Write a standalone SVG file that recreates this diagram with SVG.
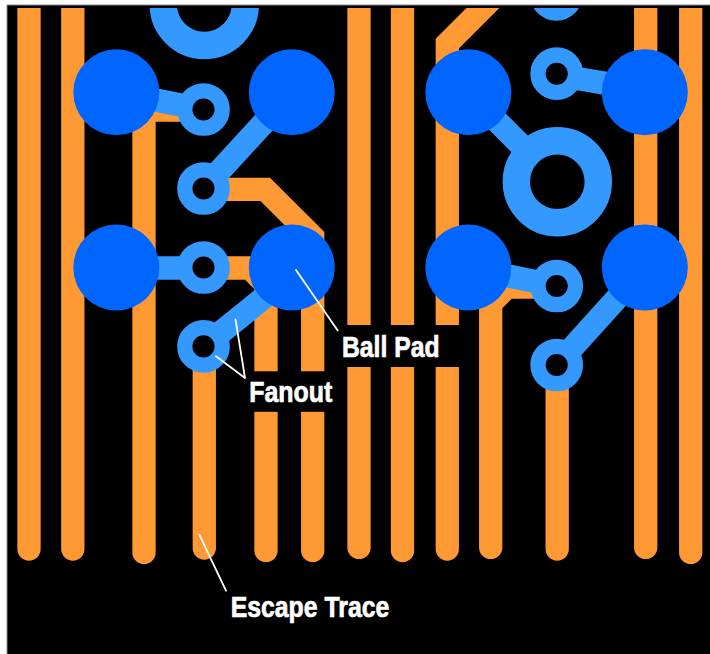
<svg xmlns="http://www.w3.org/2000/svg" width="710" height="654" viewBox="0 0 710 654">
<style>
.trace{fill:none;stroke:#ff9933;stroke-width:23.3;stroke-linecap:round;stroke-linejoin:miter}
.fan{fill:none;stroke:#3399ff;stroke-width:23.3}
.pad{fill:#0066ff}
.via{fill:#000000;stroke:#3399ff;stroke-width:15.3}
.bigvia{fill:#000000;stroke:#3399ff;stroke-width:27.4}
.lead{fill:none;stroke:#ffffff;stroke-width:1.8;stroke-linecap:round;stroke-linejoin:round}
.lbl{font-family:"Liberation Sans",Arial,sans-serif;font-weight:700;font-size:29.5px;fill:#ffffff;stroke:#ffffff;stroke-width:0.7}
</style>
<defs>
<clipPath id="board"><rect x="7.5" y="8" width="702.5" height="646"/></clipPath>
</defs>
<rect width="710" height="654" fill="#ffffff"/>
<rect x="6.5" y="4.5" width="703.5" height="650" fill="#8a8a8a"/>
<rect x="7.5" y="5.5" width="702.5" height="648.5" fill="#000000"/>
<g clip-path="url(#board)">
<g id="connectors">
<g id="escape-traces">
<path class="trace" d="M29 -20V549"/>
<path class="trace" d="M72.8 -20V549"/>
<path class="trace" d="M203.5 110H144V552.4"/>
<path class="trace" d="M204.3 346V548"/>
<path class="trace" d="M203.5 268H249.8L266 284.2V550.4"/>
<path class="trace" d="M203.5 189.3H265.2L312.7 236.8V550.4"/>
<path class="trace" d="M359 -20V547.4"/>
<path class="trace" d="M402.5 -20V550.6"/>
<path class="trace" d="M492.9 -2L447.3 43.6V549"/>
<path class="trace" d="M556.7 287H506.9L490.7 303.2V547.4"/>
<path class="trace" d="M557.2 365V549"/>
<path class="trace" d="M645.7 -20V547.4"/>
<path class="trace" d="M690.7 -20V552.4"/>
</g>
<g id="fanouts">
<path class="fan" d="M116.3 92.3L203.5 109.5"/>
<path class="fan" d="M291.8 92.3L203.5 188.5"/>
<path class="fan" d="M116.3 268H203.5"/>
<path class="fan" d="M291.8 275L203.5 346.4"/>
<path class="fan" d="M468.3 92.3L557.3 181.7"/>
<path class="fan" d="M556.7 75L644.8 90"/>
<path class="fan" d="M468.3 267.5L556.7 286"/>
<path class="fan" d="M644.8 267.5L556.7 365"/>
</g>
</g>
<g id="via-top-large"><circle class="bigvia" cx="204.3" cy="4.5" r="41"/></g>
<g id="via-top-small"><circle class="via" cx="556.3" cy="-5.6" r="18.7"/></g>
<g id="via-1"><circle class="via" cx="203.5" cy="109.5" r="18.7"/></g>
<g id="via-2"><circle class="via" cx="203.5" cy="188.5" r="18.7"/></g>
<g id="via-3"><circle class="via" cx="203.5" cy="267.5" r="18.7"/></g>
<g id="via-4"><circle class="via" cx="203.5" cy="346.4" r="18.7"/></g>
<g id="via-5"><circle class="via" cx="556.7" cy="73.7" r="18.7"/></g>
<g id="via-6"><circle class="via" cx="556.7" cy="286" r="18.7"/></g>
<g id="via-7"><circle class="via" cx="556.7" cy="365" r="18.7"/></g>
<g id="via-large"><circle class="bigvia" cx="557.3" cy="181.7" r="41"/></g>
<g id="pad-1"><circle class="pad" cx="116.3" cy="92.3" r="43"/></g>
<g id="pad-2"><circle class="pad" cx="291.8" cy="92.3" r="43"/></g>
<g id="pad-3"><circle class="pad" cx="116.3" cy="267.5" r="43"/></g>
<g id="pad-4"><circle class="pad" cx="291.8" cy="267.5" r="43"/></g>
<g id="pad-5"><circle class="pad" cx="468.3" cy="92.3" r="43"/></g>
<g id="pad-6"><circle class="pad" cx="644.8" cy="92.3" r="43"/></g>
<g id="pad-7"><circle class="pad" cx="468.3" cy="267.5" r="43"/></g>
<g id="pad-8"><circle class="pad" cx="644.8" cy="267.5" r="43"/></g>
</g>
<g id="label-ball-pad">
<rect x="335" y="325" width="135" height="42" fill="#000000"/>
<path class="lead" d="M296 270L337.7 330.5"/>
<text class="lbl" x="342" y="357" textLength="97.5" lengthAdjust="spacingAndGlyphs">Ball Pad</text>
</g>
<g id="label-fanout">
<rect x="240" y="371.3" width="95" height="40.5" fill="#000000"/>
<path class="lead" d="M235.5 319.3L245 378L216 356.3"/>
<text class="lbl" x="249.3" y="402.3" textLength="83" lengthAdjust="spacingAndGlyphs">Fanout</text>
</g>
<g id="label-escape-trace">
<path class="lead" d="M199.3 534.7L226 590.7"/>
<text class="lbl" x="230.7" y="617" textLength="158.6" lengthAdjust="spacingAndGlyphs">Escape Trace</text>
</g>
</svg>
